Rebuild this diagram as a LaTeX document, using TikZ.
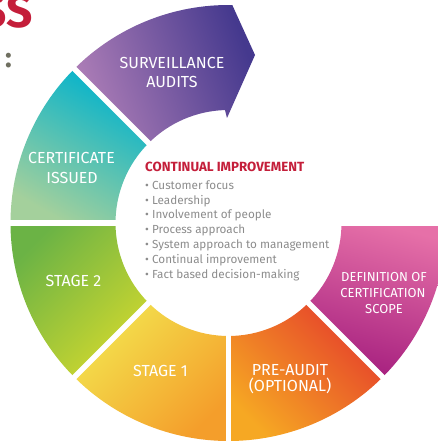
\documentclass[tikz,border=0pt]{standalone}
\usepackage{fontspec}
\setmainfont{Fira Sans}
\definecolor{survA}{HTML}{AE7EB7}
\definecolor{survB}{HTML}{45398E}
\definecolor{certA}{HTML}{00B2CD}
\definecolor{certB}{HTML}{A4D09C}
\definecolor{stwoA}{HTML}{6BB345}
\definecolor{stwoB}{HTML}{D0D82E}
\definecolor{stoneA}{HTML}{F3E34E}
\definecolor{stoneB}{HTML}{F49E2B}
\definecolor{preA}{HTML}{E5402B}
\definecolor{preB}{HTML}{F6A823}
\definecolor{defA}{HTML}{E670A8}
\definecolor{defB}{HTML}{A6207F}
\definecolor{titlered}{HTML}{C41E3A}
\definecolor{bulgray}{HTML}{8C8C8C}
\definecolor{colgray}{HTML}{6F6F60}
\begin{document}
\begin{tikzpicture}[x=1pt,y=1pt,
  gapline/.style={white, line width=5.5pt},
  lbl/.style={text=white, font=\fontsize{16}{18}\selectfont, anchor=base, inner sep=0pt},
  lbls/.style={text=white, font=\fontsize{13}{15}\selectfont, anchor=base, inner sep=0pt},
  ttl/.style={text=titlered, font=\bfseries\fontsize{13.3}{15}\selectfont, anchor=base west, inner sep=0pt},
  bul/.style={text=bulgray, font=\fontsize{11.7}{13}\selectfont, anchor=base west, inner sep=0pt}]
\useasboundingbox (0,0) rectangle (438,444);
\clip (0,0) rectangle (438,444);
\coordinate (C) at (228.5,221);
\def\Ro{218}
\def\Ri{113}
% certificate
\shade[top color=certA, bottom color=certB, shading angle=-30]
  ([shift={(135:\Ri)}]C) -- ([shift={(135:\Ro)}]C) arc[start angle=135, end angle=180, radius=\Ro]
  -- ([shift={(180:\Ri)}]C) arc[start angle=180, end angle=135, radius=\Ri] -- cycle;
% stage 2
\shade[top color=stwoA, bottom color=stwoB, shading angle=45]
  ([shift={(180:\Ri)}]C) -- ([shift={(180:\Ro)}]C) arc[start angle=180, end angle=225, radius=\Ro]
  -- ([shift={(225:\Ri)}]C) arc[start angle=225, end angle=180, radius=\Ri] -- cycle;
% stage 1
\shade[top color=stoneA, bottom color=stoneB, shading angle=45]
  ([shift={(225:\Ri)}]C) -- ([shift={(225:\Ro)}]C) arc[start angle=225, end angle=270, radius=\Ro]
  -- ([shift={(270:\Ri)}]C) arc[start angle=270, end angle=225, radius=\Ri] -- cycle;
% pre-audit
\shade[top color=preA, bottom color=preB, shading angle=-45]
  ([shift={(270:\Ri)}]C) -- ([shift={(270:\Ro)}]C) arc[start angle=270, end angle=315, radius=\Ro]
  -- ([shift={(315:\Ri)}]C) arc[start angle=315, end angle=270, radius=\Ri] -- cycle;
% definition
\shade[top color=defA, bottom color=defB, shading angle=-15]
  ([shift={(315:\Ri)}]C) -- ([shift={(315:\Ro)}]C) arc[start angle=315, end angle=360, radius=\Ro]
  -- ([shift={(360:\Ri)}]C) arc[start angle=360, end angle=315, radius=\Ri] -- cycle;
% surveillance arrow
\shade[top color=survA, bottom color=survB, shading angle=110]
  ([shift={(135:\Ro)}]C) arc[start angle=135, end angle=89, radius=\Ro]
  -- (255,389) -- (227,326) -- ([shift={(91.8:\Ri)}]C)
  arc[start angle=91.8, end angle=135, radius=\Ri] -- cycle;
% gaps
\foreach \a in {0,135,180,225,270,315}
  \draw[gapline] ([shift={(\a:100)}]C) -- ([shift={(\a:230)}]C);
% labels
\node[lbl] (surv1) at (172,375.7) {SURVEILLANCE};
\node[lbl] (surv2) at (172,356.7) {AUDITS};
\node[lbl] (cert1) at (71.5,280) {CERTIFICATE};
\node[lbl] (cert2) at (72,260.7) {ISSUED};
\node[lbl] (st2) at (73.5,157.3) {STAGE 2};
\node[lbl] (st1) at (160.5,67) {STAGE 1};
\node[lbl] (pre1) at (290,68) {PRE-AUDIT};
\node[lbl] (pre2) at (290,52.3) {(OPTIONAL)};
\node[lbls] (def1) at (384,162.3) {DEFINITION OF};
\node[lbls] (def2) at (383,146.7) {CERTIFICATION};
\node[lbls] (def3) at (384,130.7) {SCOPE};
% centre text
\node[ttl] (ci) at (145,272.3) {CONTINUAL IMPROVEMENT};
\node[bul] (b1) at (145,254.7) {• Customer focus};
\node[bul] (b2) at (145,239.9) {• Leadership};
\node[bul] (b3) at (145,225.1) {• Involvement of people};
\node[bul] (b4) at (145,210.3) {• Process approach};
\node[bul] (b5) at (145,195.5) {• System approach to management};
\node[bul] (b6) at (145,180.7) {• Continual improvement};
\node[bul] (b7) at (145,165.9) {• Fact based decision-making};
% cropped title
\node[anchor=base east, text=titlered, font=\bfseries\fontsize{46}{46}\selectfont, inner sep=0pt] (title) at (33,416) {SS};
\node[anchor=base west, text=colgray, font=\bfseries\fontsize{28}{28}\selectfont, inner sep=0pt] (colon) at (5,376) {:};
\end{tikzpicture}
\end{document}
